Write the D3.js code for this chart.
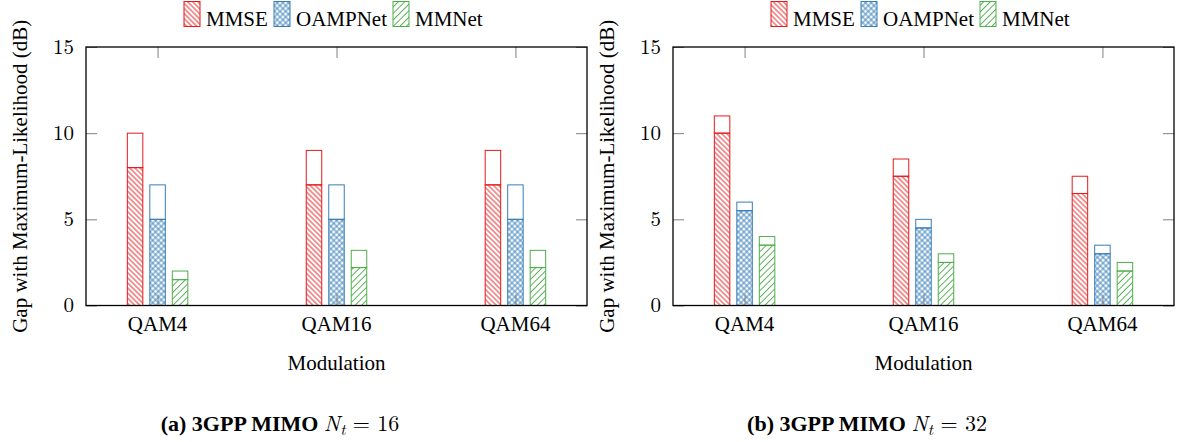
<!DOCTYPE html>
<html>
<head>
<meta charset="utf-8">
<script src="https://cdn.jsdelivr.net/npm/d3@7"></script>
<style>
  body { margin: 0; background: #fff; }
</style>
</head>
<body>
<div id="chart"></div>
<script>
// categories and series
var categories = ["QAM4", "QAM16", "QAM64"];
var seriesNames = ["MMSE", "OAMPNet", "MMNet"];
var seriesColors = ["#e41a1c", "#377eb8", "#4daf4a"];
var yTicks = [0, 5, 10, 15];

// Nt = 16 : hatched part and full bar height, one row per series, one column per modulation
var nt16Hatched = [[8, 7, 7], [5, 5, 5], [1.5, 2.2, 2.2]];
var nt16Total = [[10, 9, 9], [7, 7, 7], [2, 3.2, 3.2]];

// Nt = 32
var nt32Hatched = [[10, 7.5, 6.5], [5.5, 4.5, 3], [3.5, 2.5, 2]];
var nt32Total = [[11, 8.5, 7.5], [6, 5, 3.5], [4, 3, 2.5]];

var captionLetters = ["(a)", "(b)"];
var captionNt = ["16", "32"];

var textFont = "'Liberation Serif'";
var mathFont = "'Latin Modern Roman'";

// legend item offsets from the plot's left edge
var legendOffsets = [98, 188, 307];

var svgWidth = 1179;
var svgHeight = 442;

var svg = d3.select("#chart")
  .append("svg")
  .attr("width", svgWidth)
  .attr("height", svgHeight);

var defs = svg.append("defs");

// all texts go straight into the svg, with their own font set
function addText(x, y, str, family, size, weight) {
  return svg.append("text")
    .attr("x", x)
    .attr("y", y)
    .style("font-family", family)
    .style("font-size", size)
    .style("font-weight", weight || "normal")
    .text(str);
}

// hatch patterns
function linePattern(id, color, angle, size) {
  var p = defs.append("pattern")
    .attr("id", id)
    .attr("patternUnits", "userSpaceOnUse")
    .attr("width", size)
    .attr("height", size)
    .attr("patternTransform", "rotate(" + angle + ")");
  p.append("line")
    .attr("x1", size / 2).attr("y1", -1)
    .attr("x2", size / 2).attr("y2", size + 1)
    .attr("stroke", color)
    .attr("stroke-width", 0.9);
  return p;
}
linePattern("pat0", seriesColors[0], -45, 3.6);
var cross = linePattern("pat1", seriesColors[1], 45, 4);
cross.append("line")
  .attr("x1", -1).attr("y1", 2)
  .attr("x2", 5).attr("y2", 2)
  .attr("stroke", seriesColors[1])
  .attr("stroke-width", 0.9);
linePattern("pat2", seriesColors[2], 45, 4.6);

function drawPanel(left, hatched, total, k) {
  var x0 = left, x1 = left + 501;
  var yTop = 47, yBot = 305.5;
  var g = svg.append("g");

  var x = d3.scalePoint().domain(categories).range([x0, x1]).padding(0.4);
  var y = d3.scaleLinear().domain([0, 15]).range([yBot, yTop]);
  var xs = d3.scaleBand().domain(seriesNames).range([-30.25, 30.25]).paddingInner(0.311);

  // bars: empty top part, hatched lower part
  seriesNames.forEach(function(name, i) {
    categories.forEach(function(cat, j) {
      var bx = x(cat) + xs(name);
      g.append("rect")
        .attr("x", bx)
        .attr("y", y(total[i][j]))
        .attr("width", xs.bandwidth())
        .attr("height", y(hatched[i][j]) - y(total[i][j]))
        .attr("fill", "#fff")
        .attr("stroke", seriesColors[i])
        .attr("stroke-width", 1);
      g.append("rect")
        .attr("x", bx)
        .attr("y", y(hatched[i][j]))
        .attr("width", xs.bandwidth())
        .attr("height", yBot - y(hatched[i][j]))
        .attr("fill", "url(#pat" + i + ")")
        .attr("stroke", seriesColors[i])
        .attr("stroke-width", 1);
    });
  });

  // axis tick marks, inside, on all four sides
  var leftAxis = g.append("g")
    .attr("transform", "translate(" + x0 + ",0)")
    .call(d3.axisLeft(y).tickValues(yTicks).tickSize(-11).tickFormat(""));
  var rightAxis = g.append("g")
    .attr("transform", "translate(" + x1 + ",0)")
    .call(d3.axisRight(y).tickValues(yTicks).tickSize(-11).tickFormat(""));
  var bottomAxis = g.append("g")
    .attr("transform", "translate(0," + yBot + ")")
    .call(d3.axisBottom(x).tickSize(-11).tickFormat(""));
  var topAxis = g.append("g")
    .attr("transform", "translate(0," + yTop + ")")
    .call(d3.axisTop(x).tickSize(-11).tickFormat(""));

  [leftAxis, rightAxis, bottomAxis, topAxis].forEach(function(a) {
    a.select(".domain").remove();
    a.selectAll(".tick text").remove();
    a.selectAll(".tick line").attr("stroke", "#808080").attr("stroke-width", 1);
  });

  // frame
  g.append("rect")
    .attr("x", x0).attr("y", yTop)
    .attr("width", x1 - x0).attr("height", yBot - yTop)
    .attr("fill", "none")
    .attr("stroke", "#000")
    .attr("stroke-width", 1.3);

  // tick labels from the scales
  yTicks.forEach(function(v) {
    addText(x0 - 12, y(v), String(v), mathFont, "21px")
      .attr("text-anchor", "end")
      .attr("dy", "0.32em");
  });
  categories.forEach(function(cat) {
    addText(x(cat), yBot + 11, cat, textFont, "21px")
      .attr("text-anchor", "middle")
      .attr("dy", "0.71em");
  });

  // axis titles
  addText(0, 0, "Gap with Maximum-Likelihood (dB)", textFont, "21px")
    .attr("transform", "translate(" + (x0 - 59) + "," + ((yTop + yBot) / 2) + ") rotate(-90)")
    .attr("text-anchor", "middle");

  addText((x0 + x1) / 2, 370, "Modulation", textFont, "21px")
    .attr("text-anchor", "middle");

  // legend
  seriesNames.forEach(function(name, i) {
    g.append("rect")
      .attr("x", x0 + legendOffsets[i]).attr("y", 1.5)
      .attr("width", 16).attr("height", 25)
      .attr("fill", "url(#pat" + i + ")")
      .attr("stroke", seriesColors[i])
      .attr("stroke-width", 1);
    addText(x0 + legendOffsets[i] + 22, 26, name, textFont, "21px");
  });

  // caption
  var cap = svg.append("text")
    .attr("x", left + 194)
    .attr("y", 431)
    .attr("text-anchor", "middle")
    .style("font-family", textFont)
    .style("font-size", "22px");
  cap.append("tspan")
    .style("font-family", textFont).style("font-size", "22px").style("font-weight", "bold")
    .text(captionLetters[k] + " 3GPP MIMO ");
  cap.append("tspan")
    .style("font-family", mathFont).style("font-size", "22px").style("font-style", "italic")
    .text("N");
  cap.append("tspan")
    .style("font-family", mathFont).style("font-size", "16px").style("font-style", "italic")
    .attr("dy", 4).text("t");
  cap.append("tspan")
    .style("font-family", mathFont).style("font-size", "22px")
    .attr("dy", -4).text(" = " + captionNt[k]);
}

drawPanel(86, nt16Hatched, nt16Total, 0);
drawPanel(673, nt32Hatched, nt32Total, 1);
</script>
</body>
</html>
